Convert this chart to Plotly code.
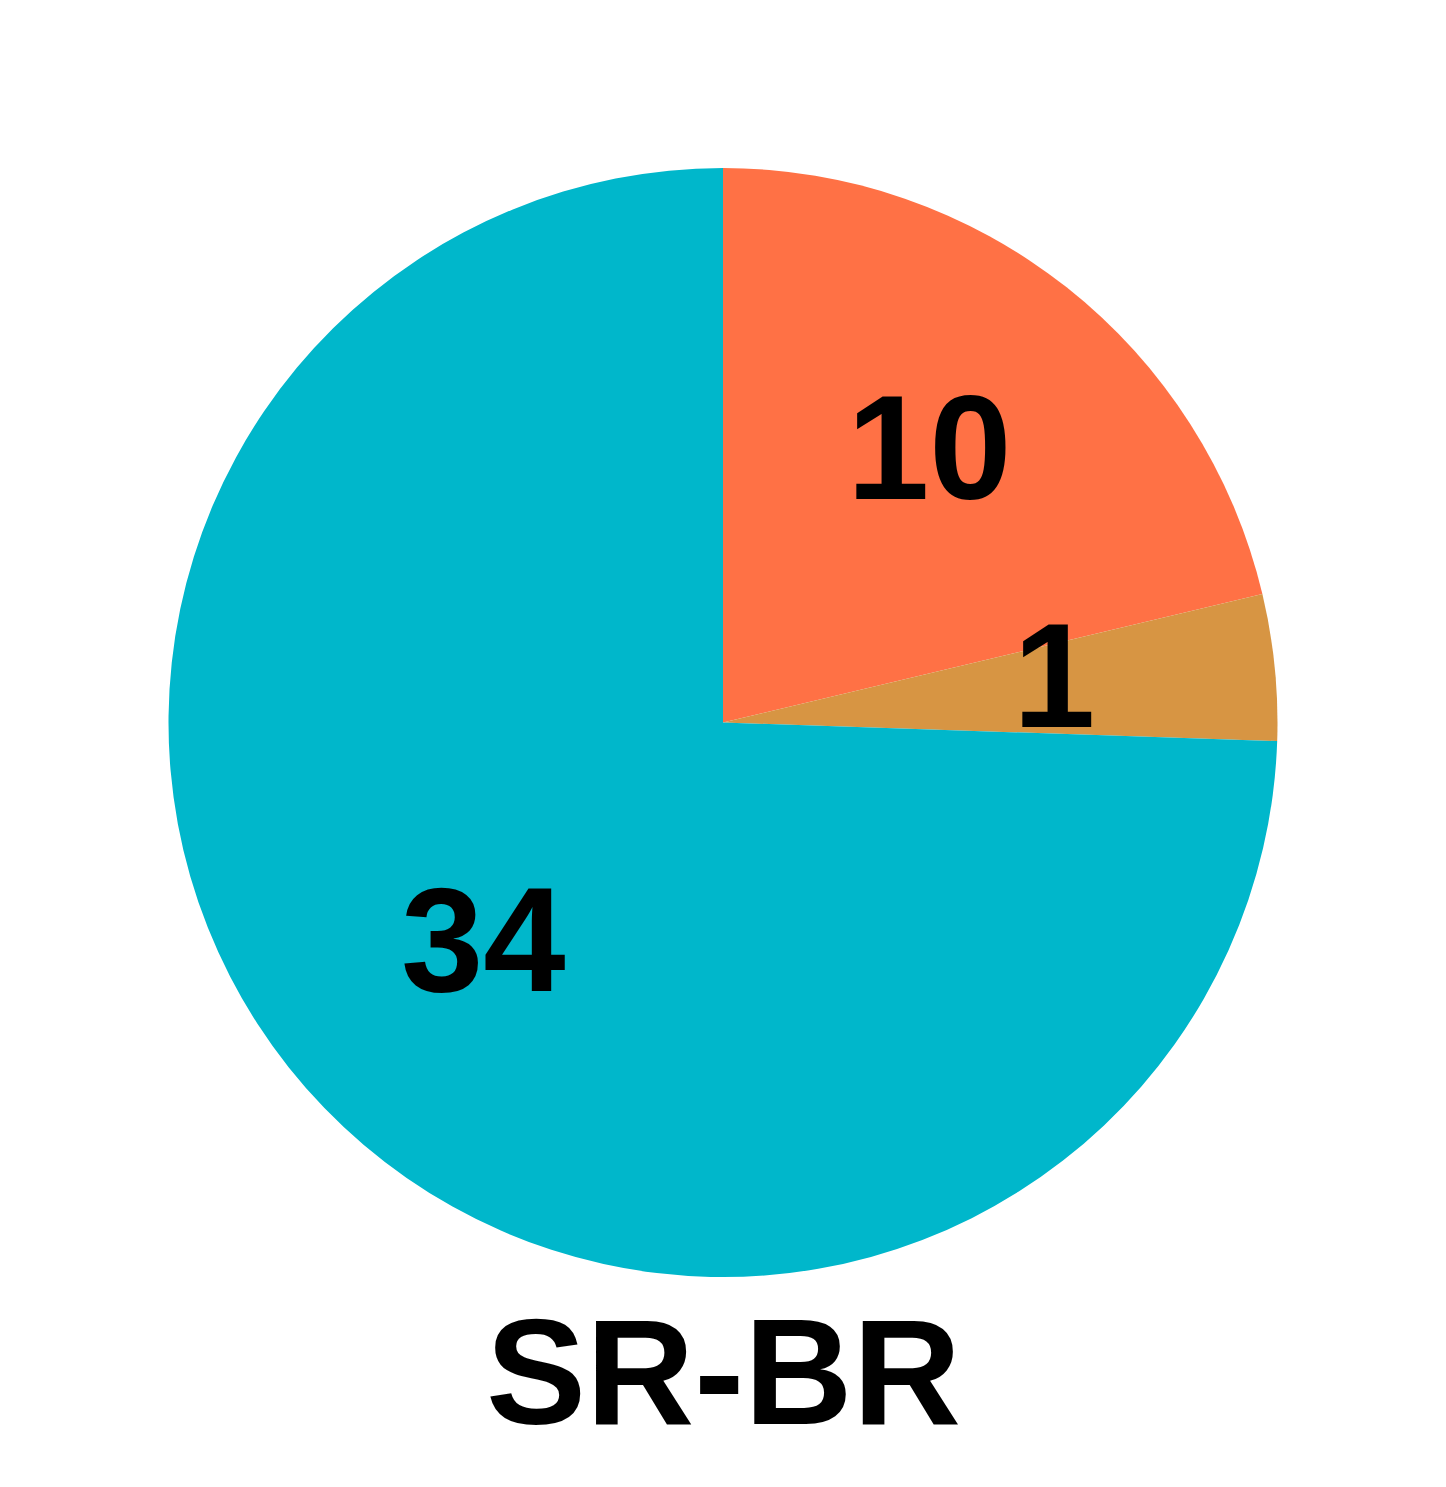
import math
import plotly.graph_objects as go

# Data
categories = ["A", "B", "C"]
slice_sizes = [10, 2, 35]          # angular sizes of the slices
slice_labels = ["10", "1", "34"]   # numbers printed on the slices
colors = ["#FF7145", "#D79543", "#00B7CB"]
title_text = "SR-BR"

W, H = 1446, 1487
dom_y = [0.1412, 0.8870]
dom_x = [0.0, 1.0]

fig = go.Figure(go.Pie(
    labels=categories,
    values=slice_sizes,
    marker=dict(colors=colors, line=dict(width=0)),
    sort=False,
    direction="clockwise",
    rotation=0,
    textinfo="none",
    hoverinfo="skip",
    showlegend=False,
    domain=dict(x=dom_x, y=dom_y),
))

# Label positions at 0.6 radius along each slice's mid angle (from data)
cx_px = W * (dom_x[0] + dom_x[1]) / 2
cy_px = H * (1 - (dom_y[0] + dom_y[1]) / 2)
r_px = min(W * (dom_x[1] - dom_x[0]), H * (dom_y[1] - dom_y[0])) / 2
total = sum(slice_sizes)
cum = 0
annotations = []
for size, txt in zip(slice_sizes, slice_labels):
    mid = (cum + size / 2) / total * 2 * math.pi
    cum += size
    px = cx_px + 0.6 * r_px * math.sin(mid)
    py = cy_px - 0.6 * r_px * math.cos(mid) - 14
    annotations.append(dict(
        x=px / W, y=1 - py / H, xref="paper", yref="paper",
        text=txt, showarrow=False, xanchor="center", yanchor="middle",
        font=dict(family="Liberation Sans, Arial", size=148, color="black", weight="bold"),
    ))

annotations.append(dict(
    x=0.5, y=1 - 1372 / H, xref="paper", yref="paper",
    text=title_text, showarrow=False, xanchor="center", yanchor="middle",
    font=dict(family="Liberation Sans, Arial", size=150, color="black", weight="bold"),
))

fig.update_layout(
    width=W, height=H,
    margin=dict(l=0, r=0, t=0, b=0),
    paper_bgcolor="white",
    plot_bgcolor="white",
    annotations=annotations,
)

fig.write_html("out.html")
